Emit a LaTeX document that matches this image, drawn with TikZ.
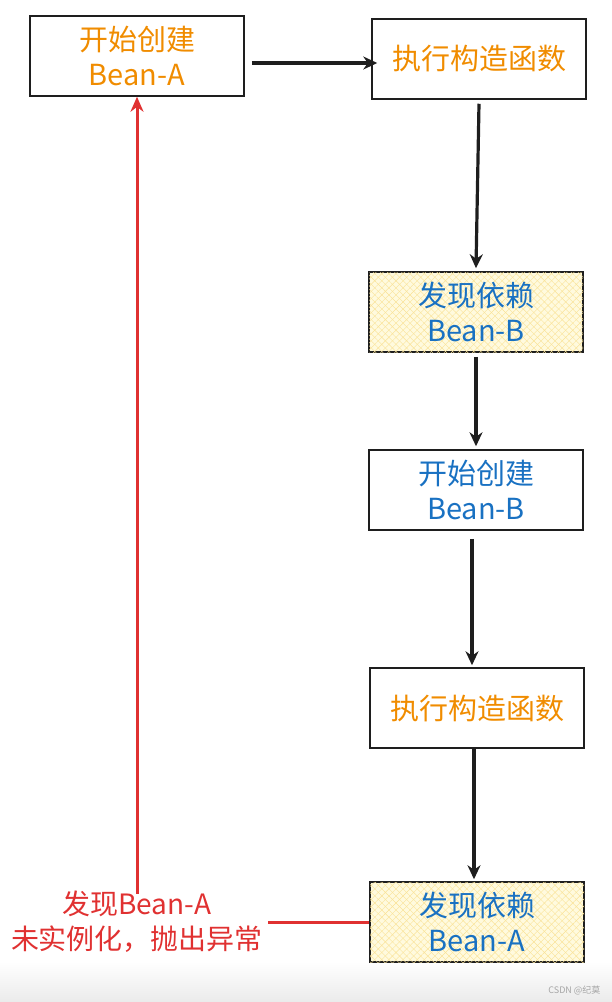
\documentclass[tikz,border=0pt]{standalone}
\usepackage{fontspec}
\setmainfont{Noto Sans CJK SC}
\usetikzlibrary{positioning, arrows.meta, patterns.meta, calc}

\definecolor{boxline}{RGB}{30,30,30}
\definecolor{orangetxt}{RGB}{240,140,0}
\definecolor{bluetxt}{RGB}{25,113,194}
\definecolor{redline}{RGB}{224,49,49}
\definecolor{hatchfill}{RGB}{255,250,222}
\definecolor{hatchline}{RGB}{250,226,150}

\begin{document}
\begin{tikzpicture}[x=1pt, y=-1pt,
		box/.style={rectangle, draw=boxline, line width=1.5pt, minimum width=214pt,
			minimum height=80pt, inner sep=0pt, align=center, font=\fontsize{29}{35}\selectfont},
		depbox/.style={box, fill=hatchfill,
			postaction={pattern={Lines[angle=45, distance=5pt, line width=0.4pt]}, pattern color=hatchline},
			postaction={pattern={Lines[angle=-45, distance=5pt, line width=0.4pt]}, pattern color=hatchline}},
		flow/.style={draw=boxline, line width=3.2pt, -{Stealth[length=14pt, width=13pt]}},
		fail/.style={draw=redline, line width=3pt}]
	
	\useasboundingbox (0,0) rectangle (612,1002);
	
	%Background
	\shade [top color=white, bottom color=black!8] (0,962) rectangle (612,1002);
	
	%Bean-A nodes
	\node [box, text=orangetxt] (startA) at (137,56) {开始创建\\Bean-A};
	\node [box, text=orangetxt] (ctorA) at (479,59) {执行构造函数};
	\node [depbox, text=bluetxt] (needB) at (476,312) {发现依赖\\Bean-B};
	
	%Bean-B nodes
	\node [box, text=bluetxt] (startB) at (476,490) {开始创建\\Bean-B};
	\node [box, text=orangetxt] (ctorB) at (477,708) {执行构造函数};
	\node [depbox, text=bluetxt] (needA) at (477,922) {发现依赖\\Bean-A};
	
	%Failure note
	\node [align=center, text=redline, inner sep=5pt, font=\fontsize{28}{35}\selectfont]
	(warn) at (137,922) {发现Bean-A\\未实例化，抛出异常};
	
	%Links
	\path [flow] ($(startA.east)+(7,7)$) -- ($(ctorA.west)+(6,4)$);
	\path [flow] (ctorA.south) ++(0,4) -- ($(needB.north)+(0,-3)$);
	\path [flow] (needB.south) ++(0,4) -- ($(startB.north)+(0,-3)$);
	\path [flow] (startB.south) ++(-4,8) -- ($(ctorB.north)+(-5,-2)$);
	\path [flow] (ctorB.south) ++(-3,0) -- ($(needA.north)+(-3,-2)$);
	
	%Failure path
	\path [fail] (needA.west) -- (warn.east |- needA.west);
	\path [fail, -{Stealth[length=15pt, width=13pt]}] (warn.north) ++(0,8) -- (startA.south);
	
	%Watermark
	\node [text=black!35, font=\fontsize{9}{10}\selectfont, anchor=east] (mark) at (604,990) {CSDN @纪莫};
	
\end{tikzpicture}
\end{document}
